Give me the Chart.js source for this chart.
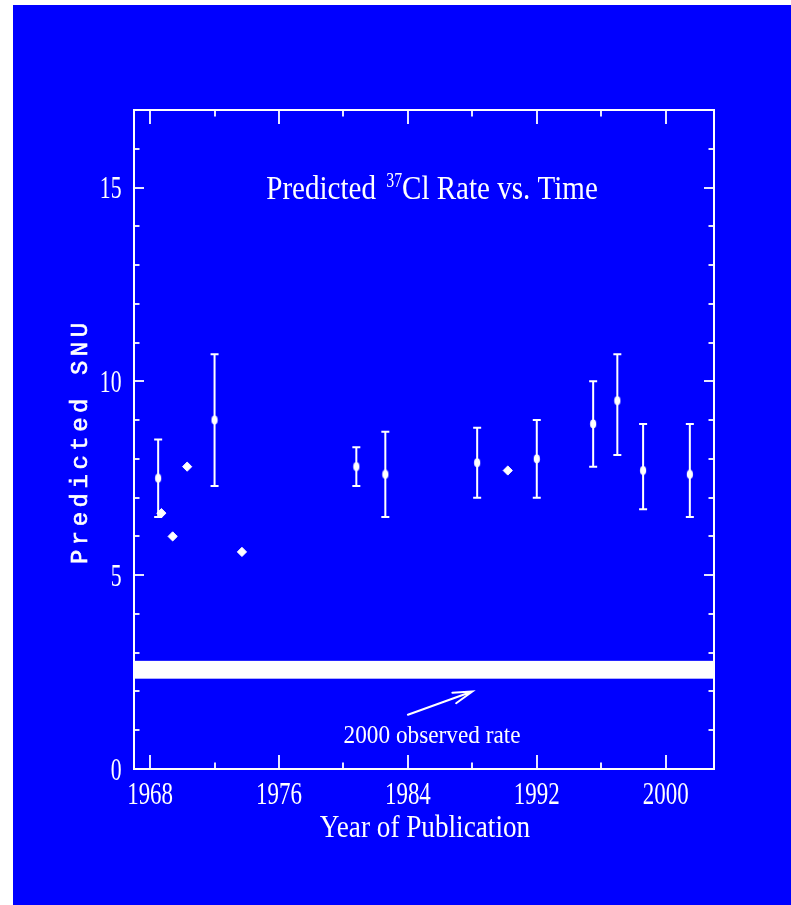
<!DOCTYPE html>
<html lang="en">
<head>
<meta charset="UTF-8" />
<title>Predicted 37Cl Rate vs. Time</title>
<script src="https://cdn.jsdelivr.net/npm/chart.js"></script>
<style>
  body { margin: 0; background: #fff; }
  #panel { position: absolute; left: 13px; top: 5px; width: 778px; height: 900px; background: #0000ff; }
  canvas { display: block; }
</style>
</head>
<body>
<div id="panel"><canvas id="snuChart" width="778" height="900"></canvas></div>
<script>
// predictions published with an uncertainty range
const barYears = [1968.5, 1972.0, 1980.8, 1982.6, 1988.3, 1992.0, 1995.5, 1997.0, 1998.6, 2001.5];
const barSnu   = [7.5, 9.0, 7.8, 7.6, 7.9, 8.0, 8.9, 9.5, 7.7, 7.6];
const barLow   = [6.5, 7.3, 7.3, 6.5, 7.0, 7.0, 7.8, 8.1, 6.7, 6.5];
const barHigh  = [8.5, 10.7, 8.3, 8.7, 8.8, 9.0, 10.0, 10.7, 8.9, 8.9];

// predictions quoted as a single number
const dotYears = [1968.7, 1969.4, 1970.3, 1973.7, 1990.2];
const dotSnu   = [6.6, 6.0, 7.8, 5.6, 7.7];

// measured capture rate
const observedSnu = 2.56;
const observedErr = 0.23;

const xLabels = [1968, 1976, 1984, 1992, 2000];
const xMinor  = [1972, 1980, 1988, 1996];
const yLabels = [0, 5, 10, 15];
const yMinor  = [1, 2, 3, 4, 6, 7, 8, 9, 11, 12, 13, 14, 16];

const INK = '#ffffff';
const SERIF = '"Liberation Serif", "Times New Roman", serif';

// where the free-standing texts sit, in data units
const notes = {
  title: { x: 1985.5, y: 14.7 },
  arrowFrom: { x: 1984, y: 1.4 },
  arrowTo: { x: 1988, y: 2.0 },
  observed: { x: 1985.5, y: 0.66 }
};

// small upright ellipse used as the point marker
const ellipseDot = document.createElement('canvas');
ellipseDot.width = 8;
ellipseDot.height = 10;
(function () {
  const g = ellipseDot.getContext('2d');
  g.fillStyle = INK;
  g.beginPath();
  g.ellipse(4, 5, 3.1, 4.4, 0, 0, Math.PI * 2);
  g.fill();
})();

// narrow plotter-style lettering: a serif face squeezed horizontally
function squeezed(ctx, text, x, y, size, squeeze, align) {
  ctx.save();
  ctx.font = size + 'px ' + SERIF;
  const w = ctx.measureText(text).width * squeeze;
  let left = x;
  if (align === 'center') left = x - w / 2;
  else if (align === 'right') left = x - w;
  ctx.translate(left, y);
  ctx.scale(squeeze, 1);
  ctx.textAlign = 'left';
  ctx.textBaseline = 'alphabetic';
  ctx.fillStyle = INK;
  ctx.fillText(text, 0, 0);
  ctx.restore();
  return w;
}

function measureSqueezed(ctx, text, size, squeeze) {
  ctx.save();
  ctx.font = size + 'px ' + SERIF;
  const w = ctx.measureText(text).width * squeeze;
  ctx.restore();
  return w;
}

// band, frame and inward ticks
const framePlugin = {
  id: 'frame',
  beforeDatasetsDraw(chart) {
    const { ctx, chartArea: a, scales: { x, y } } = chart;
    ctx.save();
    ctx.fillStyle = INK;
    const bandTop = y.getPixelForValue(observedSnu + observedErr);
    const bandBot = y.getPixelForValue(observedSnu - observedErr);
    ctx.fillRect(a.left, bandTop, a.right - a.left, bandBot - bandTop);

    ctx.strokeStyle = INK;
    ctx.lineWidth = 2;
    ctx.strokeRect(a.left, a.top, a.right - a.left, a.bottom - a.top);

    const tick = (x1, y1, x2, y2) => {
      ctx.beginPath();
      ctx.moveTo(x1, y1);
      ctx.lineTo(x2, y2);
      ctx.stroke();
    };
    ctx.lineWidth = 1.8;
    xLabels.forEach(v => {
      const px = Math.round(x.getPixelForValue(v));
      tick(px, a.bottom, px, a.bottom - 14);
      tick(px, a.top, px, a.top + 14);
    });
    xMinor.forEach(v => {
      const px = Math.round(x.getPixelForValue(v));
      tick(px, a.bottom, px, a.bottom - 6.5);
      tick(px, a.top, px, a.top + 6.5);
    });
    yLabels.forEach(v => {
      const py = Math.round(y.getPixelForValue(v));
      tick(a.left, py, a.left + 10, py);
      tick(a.right, py, a.right - 10, py);
    });
    yMinor.forEach(v => {
      const py = Math.round(y.getPixelForValue(v));
      tick(a.left, py, a.left + 5.5, py);
      tick(a.right, py, a.right - 5.5, py);
    });
    ctx.restore();
  }
};

// vertical error bars with short caps
const errorBarPlugin = {
  id: 'errorBars',
  beforeDatasetsDraw(chart) {
    const { ctx, scales: { x, y } } = chart;
    ctx.save();
    ctx.strokeStyle = INK;
    ctx.lineWidth = 2;
    barYears.forEach((yr, i) => {
      const px = x.getPixelForValue(yr);
      const top = y.getPixelForValue(barHigh[i]);
      const bot = y.getPixelForValue(barLow[i]);
      ctx.beginPath();
      ctx.moveTo(px, top);
      ctx.lineTo(px, bot);
      ctx.moveTo(px - 4, top);
      ctx.lineTo(px + 4, top);
      ctx.moveTo(px - 4, bot);
      ctx.lineTo(px + 4, bot);
      ctx.stroke();
    });
    ctx.restore();
  }
};

// tick labels, axis titles, heading and the arrow note
const textPlugin = {
  id: 'texts',
  afterDraw(chart) {
    const { ctx, chartArea: a, scales: { x, y } } = chart;

    xLabels.forEach(v => squeezed(ctx, String(v), x.getPixelForValue(v), a.bottom + 34.5, 31, 0.74, 'center'));
    yLabels.forEach(v => squeezed(ctx, String(v), a.left - 12.5, y.getPixelForValue(v) + 10.5, 31, 0.70, 'right'));

    squeezed(ctx, 'Year of Publication', (a.left + a.right) / 2 + 1, a.bottom + 67.5, 32, 0.85, 'center');

    // heading with a raised isotope number
    const tSize = 33, sSize = 20, sq = 0.88;
    const p1 = 'Predicted ', p2 = '37', p3 = 'Cl Rate vs. Time';
    const w1 = measureSqueezed(ctx, p1, tSize, sq) + 3;
    const w2 = measureSqueezed(ctx, p2, sSize, sq * 0.9);
    const w3 = measureSqueezed(ctx, p3, tSize, sq);
    const tx = x.getPixelForValue(notes.title.x) - (w1 + w2 + w3) / 2;
    const ty = y.getPixelForValue(notes.title.y);
    squeezed(ctx, p1, tx, ty, tSize, sq, 'left');
    squeezed(ctx, p2, tx + w1, ty - 12, sSize, sq * 0.9, 'left');
    squeezed(ctx, p3, tx + w1 + w2, ty, tSize, sq, 'left');

    // Y title: spaced typewriter face, read bottom to top
    ctx.save();
    ctx.translate(74, (a.top + a.bottom) / 2 + 4);
    ctx.rotate(-Math.PI / 2);
    ctx.font = '24px "Liberation Mono", "DejaVu Sans Mono", monospace';
    ctx.fillStyle = INK;
    ctx.strokeStyle = INK;
    ctx.lineWidth = 0.6;
    ctx.textBaseline = 'alphabetic';
    const label = 'Predicted SNU';
    const gap = 4.5;
    const widths = [...label].map(c => ctx.measureText(c).width);
    const total = widths.reduce((s, w) => s + w, 0) + gap * (label.length - 1);
    let cx = -total / 2;
    [...label].forEach((c, i) => {
      ctx.fillText(c, cx, 0);
      ctx.strokeText(c, cx, 0);
      cx += widths[i] + gap;
    });
    ctx.restore();

    // arrow pointing at the band
    const ax1 = x.getPixelForValue(notes.arrowFrom.x), ay1 = y.getPixelForValue(notes.arrowFrom.y);
    const ax2 = x.getPixelForValue(notes.arrowTo.x), ay2 = y.getPixelForValue(notes.arrowTo.y);
    const ang = Math.atan2(ay1 - ay2, ax1 - ax2);
    const head = 20, spread = 0.28;
    ctx.save();
    ctx.strokeStyle = INK;
    ctx.lineWidth = 2;
    ctx.lineCap = 'round';
    ctx.beginPath();
    ctx.moveTo(ax1, ay1);
    ctx.lineTo(ax2, ay2);
    ctx.moveTo(ax2 + head * Math.cos(ang + spread), ay2 + head * Math.sin(ang + spread));
    ctx.lineTo(ax2, ay2);
    ctx.lineTo(ax2 + head * Math.cos(ang - spread), ay2 + head * Math.sin(ang - spread));
    ctx.stroke();
    ctx.restore();

    squeezed(ctx, '2000 observed rate', x.getPixelForValue(notes.observed.x), y.getPixelForValue(notes.observed.y), 25, 0.93, 'center');
  }
};

new Chart(document.getElementById('snuChart').getContext('2d'), {
  type: 'scatter',
  data: {
    datasets: [
      {
        label: 'with uncertainty',
        data: barYears.map((yr, i) => ({ x: yr, y: barSnu[i] })),
        pointStyle: ellipseDot,
        pointRadius: 4,
        backgroundColor: INK,
        borderColor: INK
      },
      {
        label: 'central value only',
        data: dotYears.map((yr, i) => ({ x: yr, y: dotSnu[i] })),
        pointStyle: 'rectRot',
        pointRadius: 4.6,
        borderWidth: 1,
        backgroundColor: INK,
        borderColor: INK
      }
    ]
  },
  options: {
    responsive: false,
    animation: false,
    layout: { padding: { left: 121, top: 105, right: 77, bottom: 136 } },
    scales: {
      x: { type: 'linear', min: 1967, max: 2003, display: false },
      y: { type: 'linear', min: 0, max: 17, display: false }
    },
    plugins: {
      legend: { display: false },
      tooltip: { enabled: false }
    }
  },
  plugins: [framePlugin, errorBarPlugin, textPlugin]
});
</script>
</body>
</html>
